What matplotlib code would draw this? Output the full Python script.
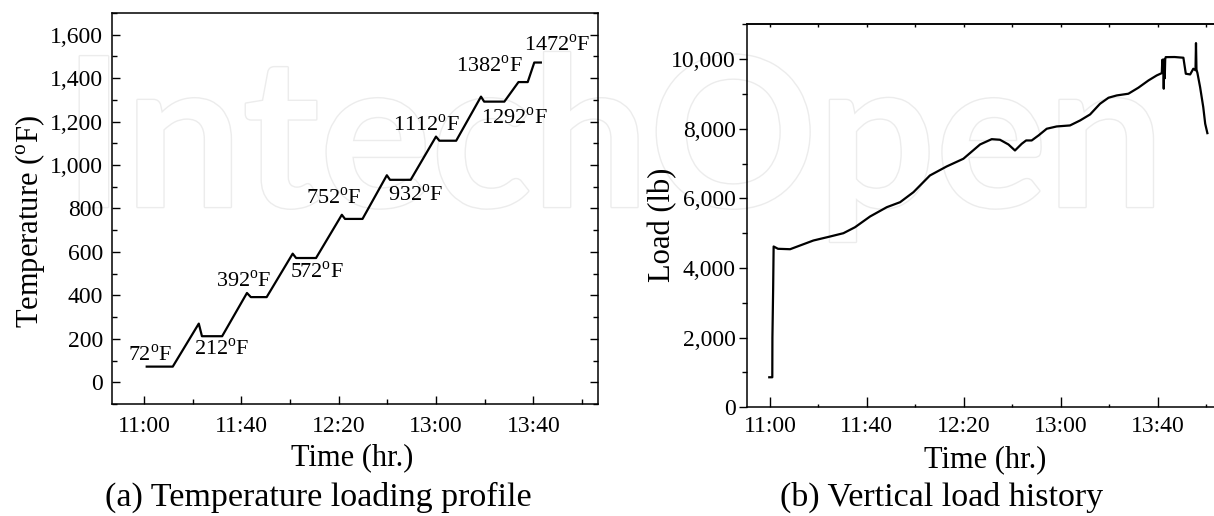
import matplotlib
matplotlib.use('Agg')
import matplotlib.pyplot as plt
import matplotlib.patheffects as pe
from matplotlib.ticker import FuncFormatter, MultipleLocator

plt.rcParams['font.family'] = 'Liberation Serif'
plt.rcParams['mathtext.fontset'] = 'custom'
plt.rcParams['mathtext.rm'] = 'Liberation Serif'

# Time axis is in minutes after 11:00
tick_minutes = [0, 40, 80, 120, 160]
tick_labels = ['11:00', '11:40', '12:20', '13:00', '13:40']

# (a) furnace temperature steps
temp_time = [1.1, 11.8, 22.5, 23.8, 32.1, 42.3, 43.9, 50.4, 61.1, 62.5, 70.7,
             81.3, 82.6, 89.8, 99.8, 101.1, 109.6, 120.0, 121.4, 128.3,
             138.5, 139.8, 148.1, 153.9, 157.7, 160.4, 163.1]
temp_value = [72, 72, 270, 212, 212, 411, 392, 392, 592, 572, 572,
              771, 752, 752, 953, 932, 932, 1131, 1112, 1112,
              1315, 1292, 1292, 1382, 1382, 1472, 1472]

step_labels = [72, 212, 392, 572, 752, 932, 1112, 1292, 1382, 1472]
label_time = [2.3, 31.9, 41.1, 71.0, 77.9, 111.5, 116.2, 152.0, 141.8, 170.0]
label_temp = [123, 150, 464, 506, 848, 863, 1185, 1216, 1456, 1553]

# (b) vertical load record
load_time = [-0.3, 0.95, 1.0, 1.3, 1.5, 3.3, 8.3, 17.9, 24.8, 30.3, 35.1,
             41.3, 48.2, 53.7, 59.2, 66.0, 72.9, 79.8, 86.7, 91.5, 94.9,
             98.4, 101.1, 103.9, 105.7, 108.0, 110.8, 114.2, 118.3, 123.8,
             128.0, 132.1, 136.2, 139.7, 143.1, 147.9, 152.0, 156.2, 159.6,
             161.7, 161.9, 162.1, 162.3, 162.5, 162.7, 162.9, 163.1, 163.3,
             167.0, 170.6, 171.6, 173.4, 174.7, 175.6, 175.8, 176.0, 176.4,
             177.5, 178.8, 179.6, 180.5]
load_value = [862, 862, 2000, 3400, 4618, 4552, 4540, 4790, 4905, 5000, 5172,
              5480, 5747, 5891, 6178, 6658, 6917, 7138, 7549, 7701, 7684,
              7549, 7376, 7569, 7664, 7664, 7807, 8000, 8066, 8095,
              8239, 8411, 8718, 8891, 8957, 9006, 9178, 9388, 9532,
              9598, 9980, 9650, 9990, 9150, 9980, 9450, 10000, 10057,
              10060, 10040, 9580, 9560, 9724, 9680, 10460, 9700, 9600,
              9195, 8621, 8144, 7874]

fig = plt.figure(figsize=(12.14, 5.16), dpi=100)

# watermark behind both panels
fig.text(0.052, 0.599, 'IntechOpen', fontsize=150, family='Lato', weight='bold',
         color='white', zorder=-1, ha='left', va='baseline',
         path_effects=[pe.Stroke(linewidth=2.0, foreground='#ececec'), pe.Normal()])


def style_time_axis(ax):
    ax.set_xticks(tick_minutes)
    ax.set_xticklabels(tick_labels)
    ax.xaxis.set_minor_locator(MultipleLocator(20))


# (a) Temperature loading profile
ax1 = fig.add_axes([0.092, 0.2171, 0.4006, 0.7577])
ax1.set_facecolor('none')
ax1.plot(temp_time, temp_value, color='black', lw=1.6)
for v, tx, ty in zip(step_labels, label_time, label_temp):
    ax1.text(tx, ty, f'{v}$^{{\\rm o}}$F', fontsize=16, ha='center', va='center')
ax1.set_xlim(-13.3, 186.6)
ax1.set_ylim(-100, 1700)
style_time_axis(ax1)
ax1.yaxis.set_major_locator(MultipleLocator(200))
ax1.yaxis.set_minor_locator(MultipleLocator(100))
ax1.yaxis.set_major_formatter(FuncFormatter(lambda v, p: f'{v:,.0f}'))
ax1.tick_params(which='both', direction='in', right=True, labelsize=17, width=1.0)
ax1.tick_params(which='major', length=6)
ax1.tick_params(which='minor', length=3.5)
ax1.tick_params(axis='x', pad=9)
ax1.tick_params(axis='y', pad=6)
ax1.set_xlabel('Time (hr.)', fontsize=22)
ax1.set_ylabel('Temperature ($^{\\rm o}$F)', fontsize=22)
ax1.xaxis.set_label_coords(0.495, -0.100)
ax1.yaxis.set_label_coords(-0.134, 0.466)
for s in ax1.spines.values():
    s.set_linewidth(1.1)

# (b) Vertical load history
ax2 = fig.add_axes([0.6151, 0.2107, 0.4006, 0.7422])
ax2.set_facecolor('none')
ax2.plot(load_time, load_value, color='black', lw=1.6)
ax2.set_xlim(-9.6, 191.1)
ax2.set_ylim(0, 11000)
style_time_axis(ax2)
ax2.yaxis.set_major_locator(MultipleLocator(2000))
ax2.yaxis.set_minor_locator(MultipleLocator(1000))
ax2.yaxis.set_major_formatter(FuncFormatter(lambda v, p: f'{v:,.0f}'))
ax2.tick_params(which='both', labelsize=17, width=1.0)
ax2.tick_params(axis='y', which='major', direction='out', length=6, pad=2)
ax2.tick_params(axis='y', which='minor', direction='out', length=3.5)
ax2.tick_params(axis='x', which='major', direction='in', length=7, pad=6)
ax2.tick_params(axis='x', which='minor', direction='in', length=2.5)
top = ax2.secondary_xaxis('top')
top.set_xticks(range(0, 200, 20))
top.tick_params(direction='in', length=2.5, width=1.0, labeltop=False)
top.spines['top'].set_linewidth(1.1)
ax2.set_xlabel('Time (hr.)', fontsize=22)
ax2.set_ylabel('Load (lb)', fontsize=22)
ax2.xaxis.set_label_coords(0.49, -0.100)
ax2.yaxis.set_label_coords(-0.143, 0.476)
for s in ax2.spines.values():
    s.set_linewidth(1.1)

fig.text(318 / 1214, 1 - 497 / 516, '(a) Temperature loading profile',
         fontsize=24.5, ha='center', va='center')
fig.text(942 / 1214, 1 - 497 / 516, '(b) Vertical load history',
         fontsize=24.5, ha='center', va='center')

fig.savefig('out.png', dpi=100)
